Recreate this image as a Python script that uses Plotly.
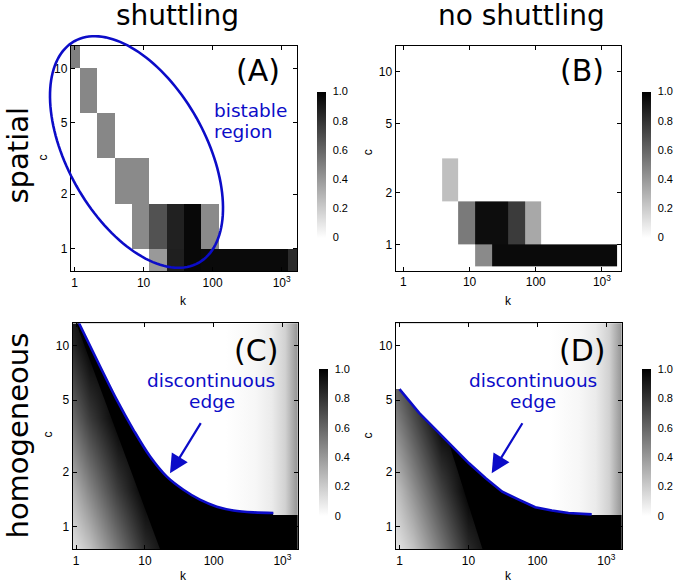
import numpy as np
import plotly.graph_objects as go

W, H = 675, 585
BLUE = "#0c0cc8"
BIG = "DejaVu Sans"
SMALL = "Liberation Sans, Arial"

# ---------------- data: spatial simulations (A, B) ----------------
k_grid = [0.89, 1.6, 2.85, 5.1, 9.1, 16.2, 28.8, 51.4, 91.6, 163, 291, 519, 925, 1667]
c_grid = [0.75, 1.33, 2.37, 4.22, 7.5, 13.3]
# rows: c_grid (bottom -> top), columns: k_grid
z_shuttling = [
    [0, 0, 0, 0, 0, 0.40, 0.88, 0.97, 0.96, 0.96, 0.96, 0.96, 0.96, 0.83],
    [0, 0, 0, 0, 0.46, 0.68, 0.87, 0.97, 0.46, 0, 0, 0, 0, 0],
    [0, 0, 0, 0.46, 0.46, 0, 0, 0, 0, 0, 0, 0, 0, 0],
    [0, 0, 0.47, 0, 0, 0, 0, 0, 0, 0, 0, 0, 0, 0],
    [0, 0.47, 0, 0, 0, 0, 0, 0, 0, 0, 0, 0, 0, 0],
    [0.50, 0, 0, 0, 0, 0, 0, 0, 0, 0, 0, 0, 0, 0],
]
z_no_shuttling = [
    [0, 0, 0, 0, 0, 0.46, 0.96, 0.96, 0.96, 0.96, 0.96, 0.96, 0.96, 0.96],
    [0, 0, 0, 0, 0.52, 0.95, 0.95, 0.77, 0.34, 0, 0, 0, 0, 0],
    [0, 0, 0, 0.25, 0, 0, 0, 0, 0, 0, 0, 0, 0, 0],
    [0, 0, 0, 0, 0, 0, 0, 0, 0, 0, 0, 0, 0, 0],
    [0, 0, 0, 0, 0, 0, 0, 0, 0, 0, 0, 0, 0, 0],
    [0, 0, 0, 0, 0, 0, 0, 0, 0, 0, 0, 0, 0, 0],
]

# ---------------- data: homogeneous model (C, D) ----------------
wedge_k = [0.63, 1.58, 3.98, 10.0, 25.1, 63.1]
wedge_c = [0.63, 1.58, 3.98, 10.0, 25.1]
wedge_shuttling = [
    [0.00, 0.18, 0.48, 0.78, 1.00, 1.00],
    [0.18, 0.48, 0.77, 1.00, 1.00, 1.00],
    [0.47, 0.77, 1.00, 1.00, 1.00, 1.00],
    [0.76, 1.00, 1.00, 1.00, 1.00, 1.00],
    [1.00, 1.00, 1.00, 1.00, 1.00, 1.00],
]
wedge_no_shuttling = [
    [0.00, 0.18, 0.48, 0.79, 1.00, 1.00],
    [0.12, 0.43, 0.74, 1.00, 1.00, 1.00],
    [0.38, 0.69, 1.00, 1.00, 1.00, 1.00],
    [0.64, 0.94, 1.00, 1.00, 1.00, 1.00],
    [0.89, 1.00, 1.00, 1.00, 1.00, 1.00],
]
# discontinuous edge (blue curves)
edge_shuttling_k = [1.1, 2.23, 3.9, 6.8, 11.9, 20.8, 36.3, 63, 111, 193, 378, 738]
edge_shuttling_c = [13.3, 7.68, 5.02, 3.43, 2.44, 1.89, 1.60, 1.41, 1.29, 1.23, 1.20, 1.19]
edge_no_shuttling_k = [1.0, 1.94, 3.38, 5.88, 10.2, 17.8, 30.9, 53.6, 93, 162, 282, 612]
edge_no_shuttling_c = [5.76, 4.24, 3.43, 2.77, 2.24, 1.85, 1.56, 1.41, 1.28, 1.23, 1.19, 1.17]
plateau_c = 1.16
# boundary of the fully dark region (bottom point, top point)
diag_shuttling_k = [16.6, 1.0]
diag_shuttling_c = [0.75, 13.3]
diag_no_shuttling_k = [16.0, 5.2]
diag_no_shuttling_c = [0.75, 2.9]
# light-grey shading at large k (above the edge)
upper_grad_k = [150, 400, 700, 1100, 1667]
upper_grad_z = [0.0, 0.03, 0.08, 0.18, 0.42]

cb_ticks = [0, 0.2, 0.4, 0.6, 0.8, 1.0]
cb_labels = ["0", "0.2", "0.4", "0.6", "0.8", "1.0"]

GRAY = [[0, "rgb(255,255,255)"], [1, "rgb(0,0,0)"]]


def edges(vals):
    lv = np.log10(vals)
    mid = (lv[:-1] + lv[1:]) / 2
    return list(10 ** np.concatenate([[lv[0]], mid, [lv[-1]]]))


def px(x):
    return x / W


def py(y):
    return 1 - y / H


def colorbar(left, top, bottom):
    return dict(x=px(left), xanchor="left", xpad=0, y=py((top + bottom) / 2), yanchor="middle",
                ypad=0, len=bottom - top, lenmode="pixels", thickness=9, thicknessmode="pixels",
                outlinewidth=0, tickvals=cb_ticks, ticktext=cb_labels, ticks="outside",
                ticklen=5, tickcolor="rgba(0,0,0,0)",
                tickfont=dict(family=SMALL, size=11, color="black"))


fig = go.Figure()

# panel domains (pixels)
doms = {
    "": ((71, 297), (46, 271)),
    "2": ((395.7, 621), (45.7, 270.7)),
    "3": ((72.7, 297.7), (323.3, 549.3)),
    "4": ((396, 621.7), (323.3, 549.3)),
}

lk0, lk1 = np.log10(k_grid[0]), np.log10(k_grid[-1])
lc0, lc1 = np.log10(c_grid[0]), np.log10(c_grid[-1])
ranges = {
    "": ([lk0, lk1], [lc0, lc1]),
    "2": ([lk0 - 0.066, lk1 + 0.066], [lc0 - 0.027, lc1 + 0.027]),
    "3": ([lk0, lk1], [lc0, lc1]),
    "4": ([lk0, lk1], [lc0, lc1]),
}

# A, B heatmaps
fig.add_trace(go.Heatmap(x=edges(k_grid), y=edges(c_grid), z=z_shuttling, colorscale=GRAY,
                         zmin=0, zmax=1, xaxis="x", yaxis="y",
                         colorbar=colorbar(317, 91.5, 237.5)))
fig.add_trace(go.Heatmap(x=edges(k_grid), y=edges(c_grid), z=z_no_shuttling, colorscale=GRAY,
                         zmin=0, zmax=1, xaxis="x2", yaxis="y2",
                         colorbar=colorbar(642, 91.5, 237.5)))

k_lo_ext, k_hi_ext, c_lo_ext, c_hi_ext = 0.5, 2500, 0.6, 20

grad_cs = [[0.0, "rgb(255,255,255)"]]
for k, z in zip(upper_grad_k, upper_grad_z):
    p = (np.log10(k) - lk0) / (lk1 - lk0)
    g = int(round(255 * (1 - z)))
    grad_cs.append([float(p), f"rgb({g},{g},{g})"])


def homogeneous(sfx, wedge, ek, ec, dk, dc, cbleft, spline):
    xa, ya = "x" + sfx, "y" + sfx
    fig.add_trace(go.Heatmap(x=wedge_k, y=wedge_c, z=wedge, colorscale=GRAY, zmin=0, zmax=1,
                             zsmooth="best", xaxis=xa, yaxis=ya,
                             colorbar=colorbar(cbleft, 369, 516)))
    # dark region
    xs = [dk[0], dk[0], dk[1]]
    ys = [c_lo_ext, dc[0], dc[1]]
    if dk[1] < ek[0]:
        xs += [dk[1], ek[0]]
        ys += [c_hi_ext, c_hi_ext]
    for k, c in zip(ek, ec):
        if k > dk[1]:
            xs.append(k)
            ys.append(c)
    xs += [ek[-1], k_hi_ext, k_hi_ext]
    ys += [plateau_c, plateau_c, c_lo_ext]
    fig.add_trace(go.Scatter(x=xs, y=ys, fill="toself", fillcolor="black", mode="lines",
                             line=dict(width=0, color="black"), xaxis=xa, yaxis=ya,
                             hoverinfo="skip"))
    # region above the edge
    ux = [k_lo_ext, k_lo_ext] + list(ek) + [ek[-1], k_hi_ext, k_hi_ext]
    uy = [c_hi_ext, ec[0]] + list(ec) + [plateau_c, plateau_c, c_hi_ext]
    fig.add_trace(go.Scatter(x=ux, y=uy, fill="toself", mode="lines",
                             fillgradient=dict(type="horizontal", colorscale=grad_cs,
                                               start=k_grid[0], stop=k_grid[-1]),
                             line=dict(width=0, color="white"), xaxis=xa, yaxis=ya,
                             hoverinfo="skip"))
    fig.add_trace(go.Scatter(x=ek, y=ec, mode="lines",
                             line=dict(color=BLUE, width=2.6,
                                       shape="spline" if spline else "linear"),
                             xaxis=xa, yaxis=ya, hoverinfo="skip"))


homogeneous("3", wedge_shuttling, edge_shuttling_k, edge_shuttling_c,
            diag_shuttling_k, diag_shuttling_c, 318.5, True)
homogeneous("4", wedge_no_shuttling, edge_no_shuttling_k, edge_no_shuttling_c,
            diag_no_shuttling_k, diag_no_shuttling_c, 642, False)

axis_common = dict(type="log", showgrid=False, zeroline=False, showline=True, linecolor="black",
                   linewidth=1.3, mirror="allticks", ticks="inside", ticklen=4, tickwidth=1,
                   tickcolor="black", tickfont=dict(family=SMALL, size=12, color="black"))

layout = dict(width=W, height=H, margin=dict(l=0, r=0, t=0, b=0), showlegend=False,
              paper_bgcolor="white", plot_bgcolor="white")
for sfx, ((x0, x1), (y0, y1)) in doms.items():
    xr, yr = ranges[sfx]
    layout["xaxis" + sfx] = dict(axis_common, domain=[px(x0), px(x1)], range=xr,
                                 anchor="y" + sfx, tickvals=[1, 10, 100, 1000],
                                 ticktext=["1", "10", "100", "10<sup>3</sup>"])
    layout["yaxis" + sfx] = dict(axis_common, domain=[py(y1), py(y0)], range=yr,
                                 anchor="x" + sfx, tickvals=[1, 2, 5, 10],
                                 ticktext=["1", "2", "5", "10"])
fig.update_layout(**layout)


def txt(s, x, y, size, color="black", family=BIG, angle=0, xanchor="center"):
    return dict(text=s, x=px(x), y=py(y), xref="paper", yref="paper", showarrow=False,
                font=dict(family=family, size=size, color=color), textangle=angle,
                xanchor=xanchor, yanchor="middle")


ann = [
    txt("shuttling", 177.5, 15.3, 28),
    txt("no shuttling", 521.7, 15.3, 28),
    txt("spatial", 17.5, 155, 29, angle=-90),
    txt("homogeneous", 17, 435.5, 29, angle=-90),
    txt("(A)", 257.5, 70.6, 30),
    txt("(B)", 582, 70.6, 30),
    txt("(C)", 255.5, 350.3, 30),
    txt("(D)", 582.5, 350.3, 30),
    txt("bistable", 212, 110.3, 18.5, color=BLUE, xanchor="left"),
    txt("region", 212, 131.9, 18.5, color=BLUE, xanchor="left"),
    txt("discontinuous", 211, 380.3, 18.5, color=BLUE),
    txt("edge", 211.7, 401.9, 18.5, color=BLUE),
    txt("discontinuous", 532.5, 380.3, 18.5, color=BLUE),
    txt("edge", 532.5, 401.9, 18.5, color=BLUE),
    txt("k", 183.3, 300.8, 12, family=SMALL),
    txt("k", 508.3, 300.8, 12, family=SMALL),
    txt("k", 183.3, 575.8, 12, family=SMALL),
    txt("k", 508.3, 575.8, 12, family=SMALL),
    txt("c", 42.5, 157, 12, family=SMALL, angle=-90),
    txt("c", 367.5, 151.7, 12, family=SMALL, angle=-90),
    txt("c", 47.5, 435, 12, family=SMALL, angle=-90),
    txt("c", 367.5, 435, 12, family=SMALL, angle=-90),
]
for (hx, hy, tx, ty) in [(170, 473.3, 201.7, 421.7), (491.7, 473.3, 523.3, 421.7)]:
    ann.append(dict(text="", x=px(hx), y=py(hy), ax=tx - hx, ay=ty - hy, xref="paper",
                    yref="paper", axref="pixel", ayref="pixel", showarrow=True, arrowhead=2,
                    arrowsize=1.7, arrowwidth=2.2, arrowcolor=BLUE, standoff=0))
fig.update_layout(annotations=ann)

# ellipse marking the bistable region in (A)
cx, cy, a, b, phi = 136.5, 152, 127, 69, np.radians(60.7)
t = np.linspace(0, 2 * np.pi, 145)
ex = cx + a * np.cos(t) * np.cos(phi) - b * np.sin(t) * np.sin(phi)
ey = cy + a * np.cos(t) * np.sin(phi) + b * np.sin(t) * np.cos(phi)
path = "M " + " L ".join(f"{px(x):.5f},{py(y):.5f}" for x, y in zip(ex, ey)) + " Z"
fig.add_shape(type="path", path=path, xref="paper", yref="paper",
              line=dict(color=BLUE, width=2.6), fillcolor="rgba(0,0,0,0)")

fig.write_html("out.html", config={"displayModeBar": False},
               post_script="document.body.style.margin='0px';document.body.style.overflow='hidden';")
